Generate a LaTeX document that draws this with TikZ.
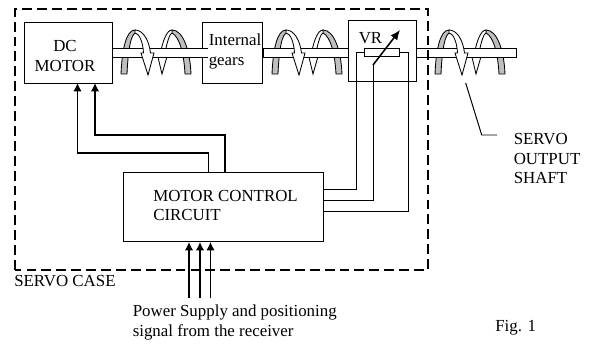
\documentclass[tikz,border=0pt]{standalone}
\usepackage{fontspec}
\setmainfont{Liberation Serif}
\usetikzlibrary{arrows.meta}
\tikzset{
	boxnode/.style={draw,fill=white,line width=0.7pt,inner sep=0pt},
	textnode/.style={inner sep=0pt,align=left,font=\fontsize{12}{14.2}\selectfont},
	wirearrow/.style={-{Latex[length=6pt,width=6pt]},line width=0.9pt},
	thinwire/.style={line width=0.7pt},
	casedash/.style={line width=2.1pt,dash pattern=on 7pt off 3.6pt},
	shaftline/.style={draw,fill=white,line width=0.7pt},
	coilback/.pic={
		\draw [fill=gray!50,line width=0.6pt] (121,74) .. controls (122,50) and (126,30) .. (135,30) -- (136,33) .. controls (131,33) and (128,50) .. (127,74) -- cycle;
		\draw [fill=gray!50,line width=0.6pt] (172,30) .. controls (183,30) and (190,50) .. (191,74) -- (185,74) .. controls (184,55) and (180,37) .. (172,33) -- cycle;
		\draw [fill=white,line width=0.6pt] (162,74) -- (157,53) -- (160.5,53) .. controls (163,40) and (167,30) .. (172,30) -- (172,33) .. controls (170,33) and (167,42) .. (165,53) -- (168,53) -- cycle;
	},
	coilfront/.pic={
		\draw [fill=white,line width=0.6pt] (135,30) .. controls (143,30) and (149,40) .. (150.5,53) -- (154,53) -- (148,75) -- (141,53) -- (143.5,53) .. controls (143,42) and (139,33) .. (135,33) -- cycle;
	}
}
\begin{document}
\begin{tikzpicture}[x=0.025cm,y=-0.025cm]
	\useasboundingbox (0,0) rectangle (591,344);
	% boxes
	\node [boxnode,minimum width=2.175cm,minimum height=1.525cm] (motor) at (68.5,52.5) {};
	\node [boxnode,minimum width=1.5cm,minimum height=1.525cm] (gears) at (232.75,52.5) {};
	\node [boxnode,minimum width=1.7cm,minimum height=1.525cm] (vr) at (382,50.5) {};
	\node [boxnode,minimum width=5cm,minimum height=1.73cm] (control) at (223.75,206.8) {};
	% coils behind the shaft
	\pic at (0,0) {coilback};
	\pic at (151,0) {coilback};
	\pic at (314,0) {coilback};
	% shaft
	\draw [shaftline] (208,48) -- (motor.east |- 0,48) -- (motor.east |- 0,57) -- (208,57);
	\draw [shaftline] (vr.west |- 0,48) -- (gears.east |- 0,48) -- (gears.east |- 0,57) -- (vr.west |- 0,57);
	\draw [shaftline] (vr.east |- 0,48) -- (516,48) -- (516,57) -- (vr.east |- 0,57);
	% coils in front of the shaft
	\pic at (0,0) {coilfront};
	\pic at (151,0) {coilfront};
	\pic at (314,0) {coilfront};
	% case
	\draw [casedash] (15,270) -- (15,9) -- (428,9) -- (428,270) -- cycle;
	% texts
	\node [textnode,align=center] (dclabel) at (65,56) {DC\\MOTOR};
	\node [textnode,anchor=west] (gearslabel) at (208.5,51.5) {Internal\\gears};
	\node [textnode] (vrlabel) at (370.5,38) {VR};
	\node [textnode,anchor=west] (controllabel) at (153,205.5) {MOTOR CONTROL\\CIRCUIT};
	\node [textnode,anchor=west] (caselabel) at (14,281) {SERVO CASE};
	\node [textnode,anchor=west] (powerlabel) at (132.5,322) {Power Supply and positioning\\signal from the receiver};
	\node [textnode,anchor=west] (shaftlabel) at (513.5,158.5) {SERVO\\OUTPUT\\SHAFT};
	\node [textnode,anchor=west] (figlabel) at (495,328) {Fig. 1};
	% variable resistor
	\node [boxnode,minimum width=0.87cm,minimum height=0.21cm] (res) at (382.3,52.75) {};
	\coordinate (wiper) at (373,65);
	\coordinate (wipertip) at (400,30);
	\draw [-{Latex[length=7pt,width=6pt]},line width=1.1pt] (wiper) -- (wipertip);
	% wires
	\coordinate (motorA) at (77.5,83);
	\coordinate (motorB) at (95,83);
	\coordinate (controlA) at (208.5,172);
	\coordinate (controlB) at (225,172);
	\draw [wirearrow] (controlA) |- (77.5,153) -- (motorA);
	\draw [wirearrow] (controlB) |- (95,135) -- (motorB);
	\coordinate (leadA) at (324,189);
	\coordinate (leadB) at (324,200);
	\coordinate (leadC) at (324,211);
	\draw [thinwire] (res.west) -| (356,189) -- (leadA);
	\draw [thinwire] (wiper) |- (leadB);
	\draw [thinwire] (res.east) -| (408.5,211) -- (leadC);
	% power and signal
	\coordinate (powerA) at (189,298);
	\coordinate (powerB) at (200,298);
	\coordinate (powerC) at (210.5,298);
	\draw [wirearrow,line width=1.1pt] (powerA) -- (powerA |- control.south);
	\draw [wirearrow,line width=1.1pt] (powerB) -- (powerB |- control.south);
	\draw [wirearrow,line width=1.1pt] (powerC) -- (powerC |- control.south);
	% leader
	\coordinate (leaderA) at (465.7,83);
	\coordinate (leaderB) at (481.7,135);
	\coordinate (leaderC) at (497,135);
	\draw [thinwire] (leaderA) -- (leaderB) -- (leaderC);
\end{tikzpicture}
\end{document}
